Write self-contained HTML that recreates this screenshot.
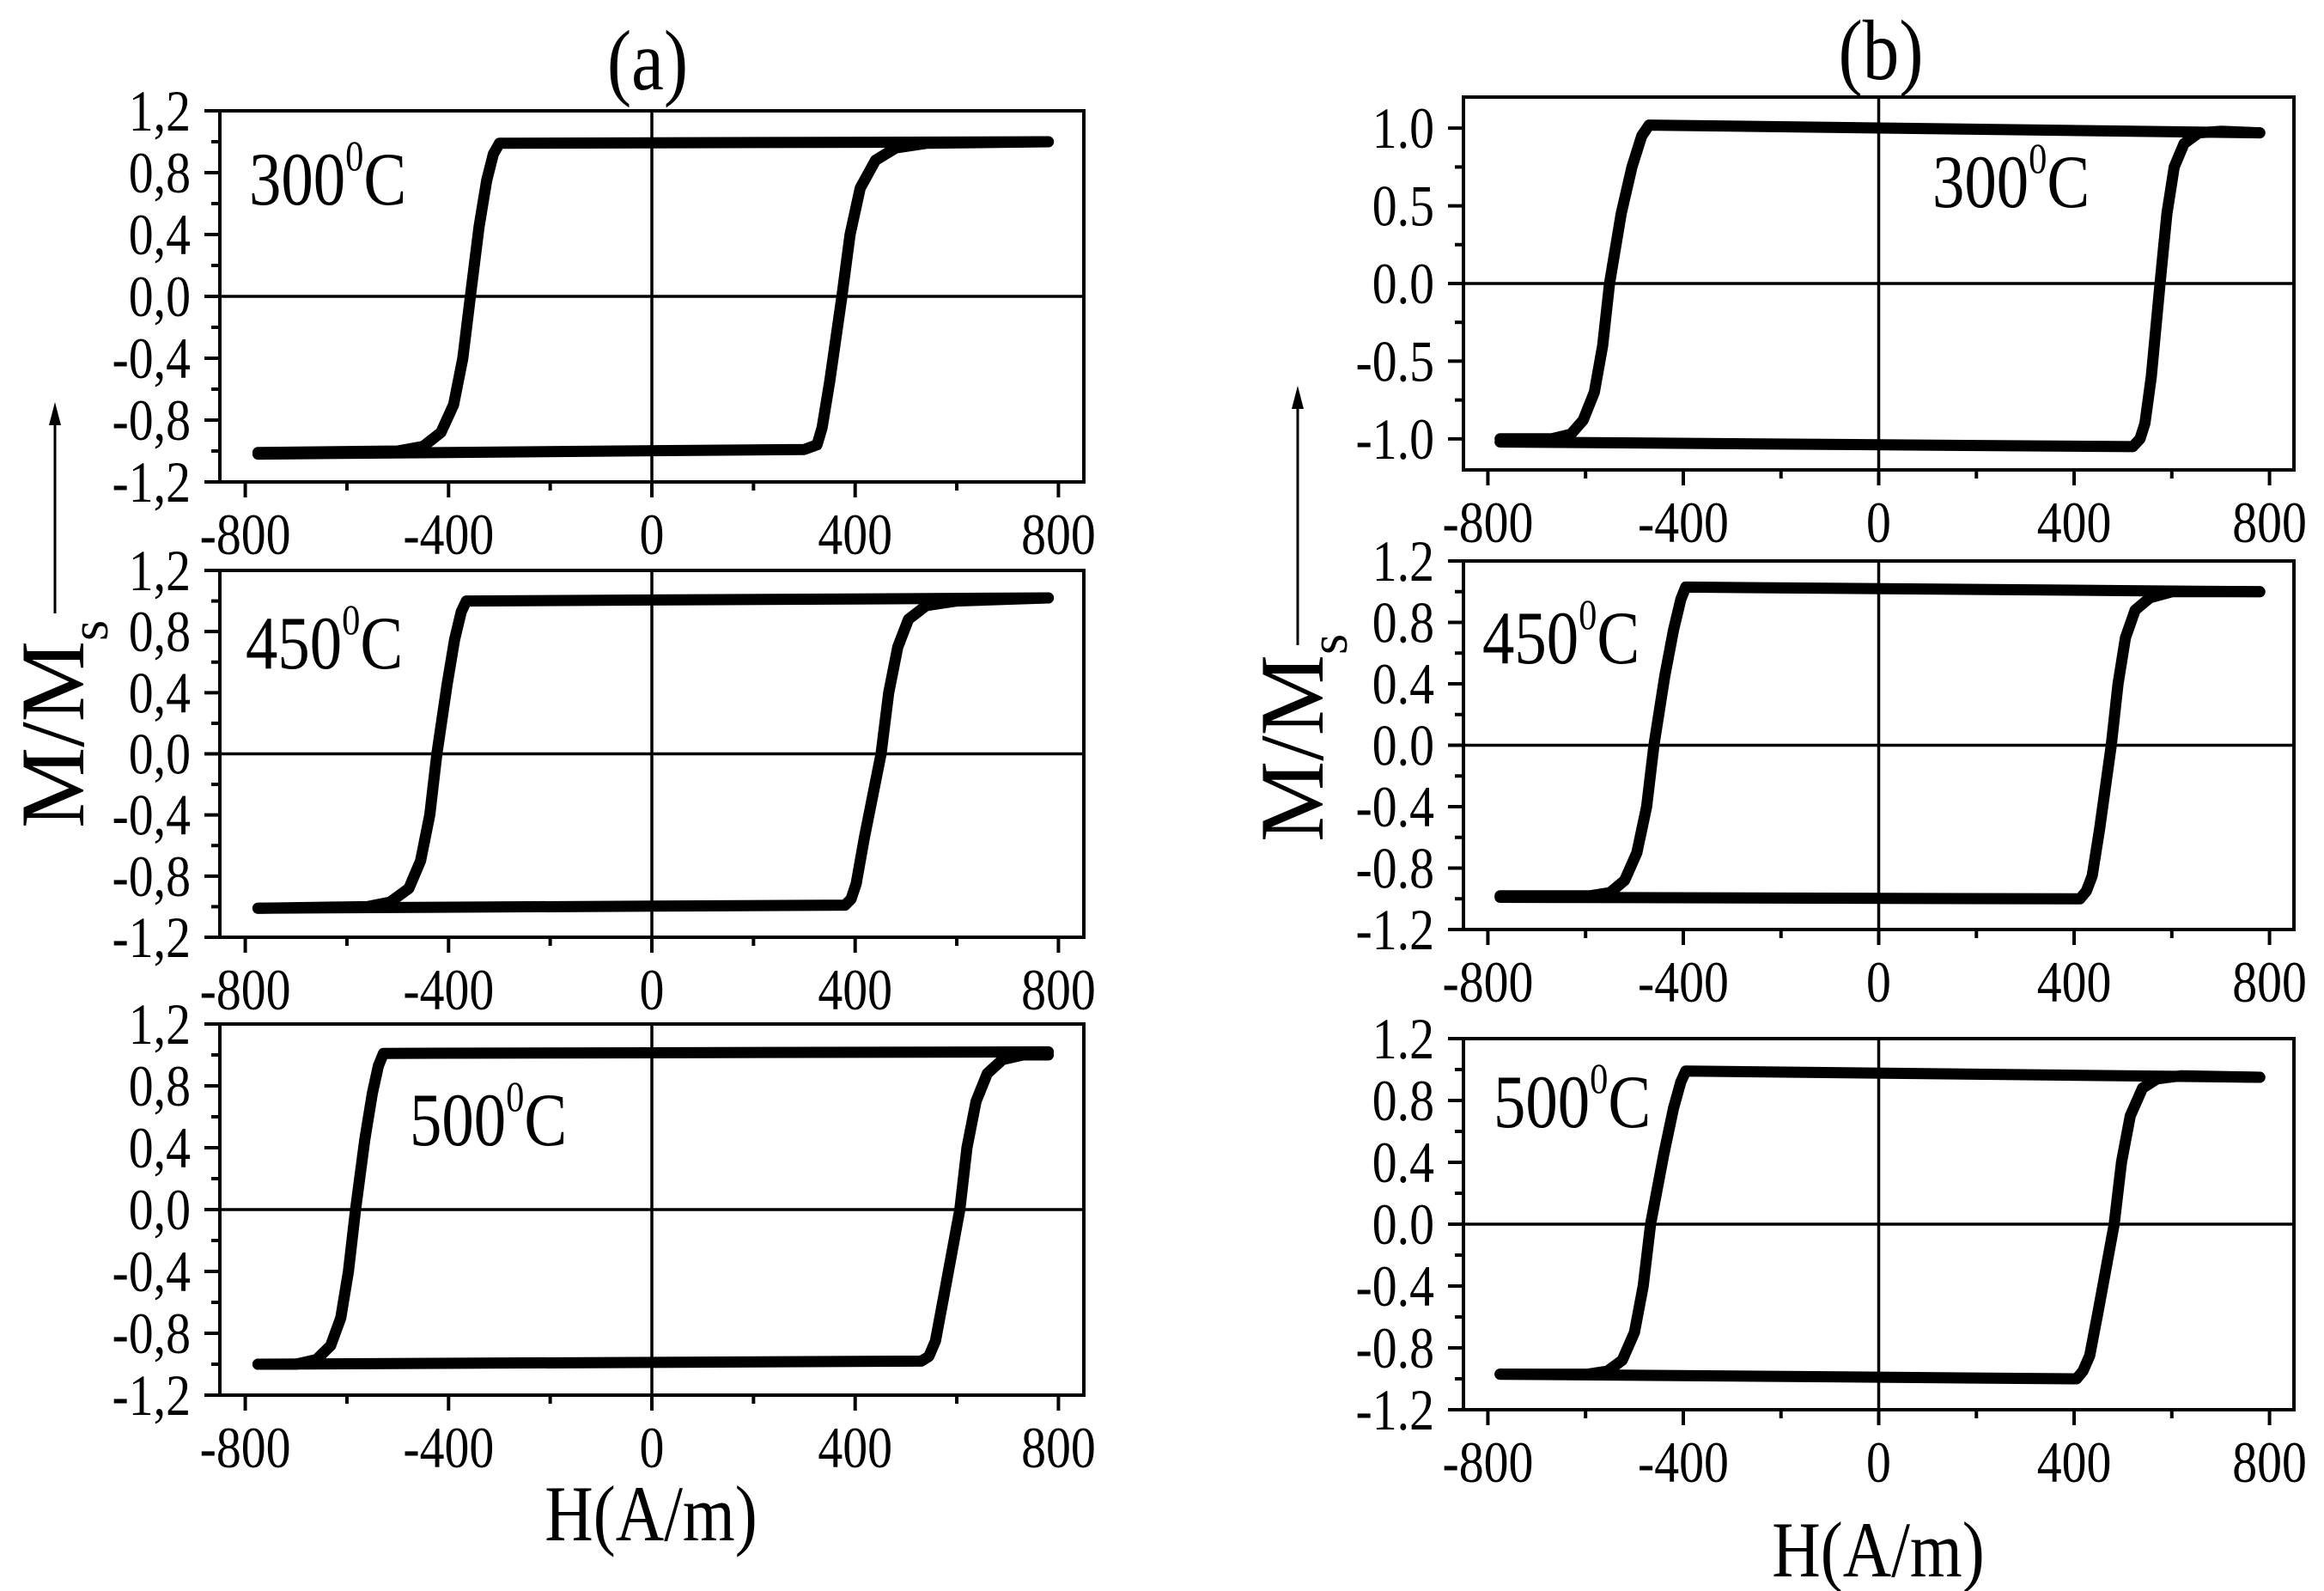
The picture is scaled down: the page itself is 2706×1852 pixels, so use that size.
<!DOCTYPE html>
<html><head><meta charset="utf-8"><style>
html,body{margin:0;padding:0;background:#fff}
svg{display:block}
text{font-family:"Liberation Serif",serif;fill:#000}
</style></head><body>
<svg id="chart" width="2706" height="1852" viewBox="0 0 2706 1852" xmlns="http://www.w3.org/2000/svg">
<rect width="2706" height="1852" fill="#fff"/>
<text transform="translate(754,104) scale(0.85,1)" font-size="100" text-anchor="middle">(a)</text>
<text transform="translate(2190,92) scale(0.85,1)" font-size="100" text-anchor="middle">(b)</text>
<g>
<line x1="64" y1="714" x2="64" y2="490" stroke="#000" stroke-width="3"/>
<polygon points="64,468 57,495 71,495" fill="#000"/>
<text transform="translate(97,964) rotate(-90)" font-size="106">M/M<tspan font-size="62" dy="28">s</tspan></text>
</g>
<g>
<line x1="1511" y1="751" x2="1511" y2="472" stroke="#000" stroke-width="3"/>
<polygon points="1511,449 1504,476 1518,476" fill="#000"/>
<text transform="translate(1540,980) rotate(-90)" font-size="106">M/M<tspan font-size="62" dy="28">s</tspan></text>
</g>
<text transform="translate(758,1793) scale(0.85,1)" font-size="92" text-anchor="middle">H(A/m)</text>
<text transform="translate(2187,1835) scale(0.85,1)" font-size="92" text-anchor="middle">H(A/m)</text>
</svg>
<script>
// ---- data: hysteresis branches [H, M/Ms] ----
const a300Upper = [[780,1.0],[-300,0.99],[-312,0.92],[-325,0.75],[-340,0.45],[-357,0],[-372,-0.4],[-390,-0.7],[-415,-0.88],[-450,-0.97],[-500,-1.0],[-775,-1.01]];
const a300Lower = [[-775,-1.02],[300,-0.99],[325,-0.96],[335,-0.85],[350,-0.55],[374,0],[390,0.4],[410,0.7],[440,0.88],[480,0.96],[540,0.99],[780,1.0]];
const a450Upper = [[780,1.02],[-365,1.0],[-375,0.93],[-388,0.75],[-403,0.45],[-423,0],[-437,-0.4],[-455,-0.7],[-478,-0.88],[-515,-0.97],[-560,-1.0],[-775,-1.01]];
const a450Lower = [[-775,-1.01],[380,-0.99],[392,-0.95],[402,-0.85],[418,-0.55],[451,0],[466,0.4],[484,0.7],[505,0.88],[540,0.97],[600,1.0],[780,1.02]];
const a500Upper = [[780,1.02],[-528,1.01],[-538,0.93],[-550,0.75],[-565,0.45],[-583,0],[-597,-0.4],[-612,-0.7],[-632,-0.88],[-660,-0.97],[-700,-1.0],[-775,-1.0]];
const a500Lower = [[-775,-1.0],[530,-0.98],[545,-0.95],[558,-0.85],[575,-0.55],[606,0],[620,0.4],[638,0.7],[660,0.88],[690,0.97],[730,1.0],[780,1.0]];
const b300Upper = [[780,0.97],[-470,1.02],[-485,0.95],[-505,0.75],[-527,0.45],[-551,0],[-565,-0.4],[-582,-0.7],[-605,-0.88],[-630,-0.97],[-670,-1.0],[-775,-1.0]];
const b300Lower = [[-775,-1.02],[520,-1.05],[535,-1.0],[545,-0.9],[558,-0.6],[576,0],[590,0.45],[605,0.75],[625,0.9],[655,0.97],[700,0.98],[780,0.97]];
const b450Upper = [[780,1.0],[-395,1.03],[-405,0.95],[-420,0.75],[-438,0.45],[-460,0],[-475,-0.4],[-495,-0.7],[-520,-0.88],[-550,-0.96],[-590,-0.98],[-775,-0.98]];
const b450Lower = [[-775,-0.99],[412,-1.0],[425,-0.95],[437,-0.85],[452,-0.55],[476,0],[490,0.4],[505,0.7],[525,0.88],[555,0.96],[600,1.0],[780,1.0]];
const b500Upper = [[780,0.95],[-395,0.99],[-405,0.92],[-420,0.75],[-440,0.45],[-467,0],[-482,-0.4],[-500,-0.7],[-525,-0.88],[-555,-0.95],[-595,-0.97],[-775,-0.97]];
const b500Lower = [[-775,-0.97],[405,-1.0],[418,-0.95],[432,-0.85],[450,-0.55],[482,0],[497,0.4],[515,0.7],[540,0.88],[570,0.94],[620,0.96],[780,0.95]];
// ticks
const xTickValues = [-800,-400,0,400,800];
const xTickLabels = ["-800","-400","0","400","800"];
const xMinorValues = [-600,-200,200,600];
const yTicksA = [-1.2,-0.8,-0.4,0,0.4,0.8,1.2];
const yLabelsA = ["-1,2","-0,8","-0,4","0,0","0,4","0,8","1,2"];
const yMinorA = [-1.0,-0.6,-0.2,0.2,0.6,1.0];
const yTicksB1 = [-1.0,-0.5,0,0.5,1.0];
const yLabelsB1 = ["-1.0","-0.5","0.0","0.5","1.0"];
const yMinorB1 = [-0.75,-0.25,0.25,0.75];
const yLabelsB = ["-1.2","-0.8","-0.4","0.0","0.4","0.8","1.2"];
const tempLabels = ["300","450","500","300","450","500"];

const NS = "http://www.w3.org/2000/svg";
const svg = document.getElementById('chart');
function mk(tag, attrs, parent){ const e=document.createElementNS(NS,tag); for(const k in attrs) e.setAttribute(k,attrs[k]); (parent||svg).appendChild(e); return e; }

const panels = [
 {id:'a-300',L:256,R:1262,T:129,B:561,up:a300Upper,lo:a300Lower,yt:yTicksA,yl:yLabelsA,ym:yMinorA,temp:tempLabels[0],tx:290,ty:238},
 {id:'a-450',L:256,R:1262,T:664,B:1091,up:a450Upper,lo:a450Lower,yt:yTicksA,yl:yLabelsA,ym:yMinorA,temp:tempLabels[1],tx:286,ty:778},
 {id:'a-500',L:256,R:1262,T:1192,B:1624,up:a500Upper,lo:a500Lower,yt:yTicksA,yl:yLabelsA,ym:yMinorA,temp:tempLabels[2],tx:477,ty:1333},
 {id:'b-300',L:1704,R:2671,T:113,B:547,up:b300Upper,lo:b300Lower,yt:yTicksB1,yl:yLabelsB1,ym:yMinorB1,temp:tempLabels[3],tx:2250,ty:241},
 {id:'b-450',L:1704,R:2671,T:653,B:1082,up:b450Upper,lo:b450Lower,yt:yTicksA,yl:yLabelsB,ym:yMinorA,temp:tempLabels[4],tx:1726,ty:772},
 {id:'b-500',L:1704,R:2671,T:1209,B:1641,up:b500Upper,lo:b500Lower,yt:yTicksA,yl:yLabelsB,ym:yMinorA,temp:tempLabels[5],tx:1739,ty:1312}
];

panels.forEach(p=>{
  const g = mk('g',{});
  
  
  const xs = h => p.L + (h+850)/1700*(p.R-p.L);
  const ys = m => p.B - (m+1.2)/2.4*(p.B-p.T);
  const zh = mk('line',{x1:p.L,x2:p.R,y1:ys(0),y2:ys(0),stroke:'#000','stroke-width':3.5},g);
  
  
  const zv = mk('line',{x1:xs(0),x2:xs(0),y1:p.T,y2:p.B,stroke:'#000','stroke-width':3.5},g);
  
  
  [['upper',p.up],['lower',p.lo]].forEach(([nm,arr])=>{
    const pl = mk('polyline',{points:arr.map(d=>xs(d[0]).toFixed(1)+','+ys(d[1]).toFixed(1)).join(' '),fill:'none',stroke:'#000','stroke-width':13,'stroke-linejoin':'round','stroke-linecap':'round'},g);
    
    
  });
  const fr = mk('rect',{x:p.L,y:p.T,width:p.R-p.L,height:p.B-p.T,fill:'none',stroke:'#000','stroke-width':4},g);
  
  
  xTickValues.forEach((v,i)=>{
    mk('line',{x1:xs(v),x2:xs(v),y1:p.B,y2:p.B+18,stroke:'#000','stroke-width':4},g);
    const t = mk('text',{transform:'translate('+xs(v)+','+(p.B+84)+') scale(0.85,1)','font-size':68,'text-anchor':'middle'},g);
    
    
    t.textContent = xTickLabels[i];
  });
  xMinorValues.forEach(v=>mk('line',{x1:xs(v),x2:xs(v),y1:p.B,y2:p.B+10,stroke:'#000','stroke-width':4},g));
  p.yt.forEach((v,i)=>{
    mk('line',{x1:p.L-18,x2:p.L,y1:ys(v),y2:ys(v),stroke:'#000','stroke-width':4},g);
    const t = mk('text',{transform:'translate('+(p.L-34)+','+(ys(v)+23)+') scale(0.85,1)','font-size':68,'text-anchor':'end'},g);
    
    
    t.textContent = p.yl[i];
  });
  p.ym.forEach(v=>mk('line',{x1:p.L-10,x2:p.L,y1:ys(v),y2:ys(v),stroke:'#000','stroke-width':4},g));
  const tl = mk('text',{transform:'translate('+p.tx+','+p.ty+') scale(0.85,1)','font-size':88},g);
  
  
  tl.textContent = p.temp;
  const sup = mk('tspan',{'font-size':50,dy:-40},tl); sup.textContent='0';
  const c = mk('tspan',{dy:40},tl); c.textContent='C';
});
</script>
</body></html>
